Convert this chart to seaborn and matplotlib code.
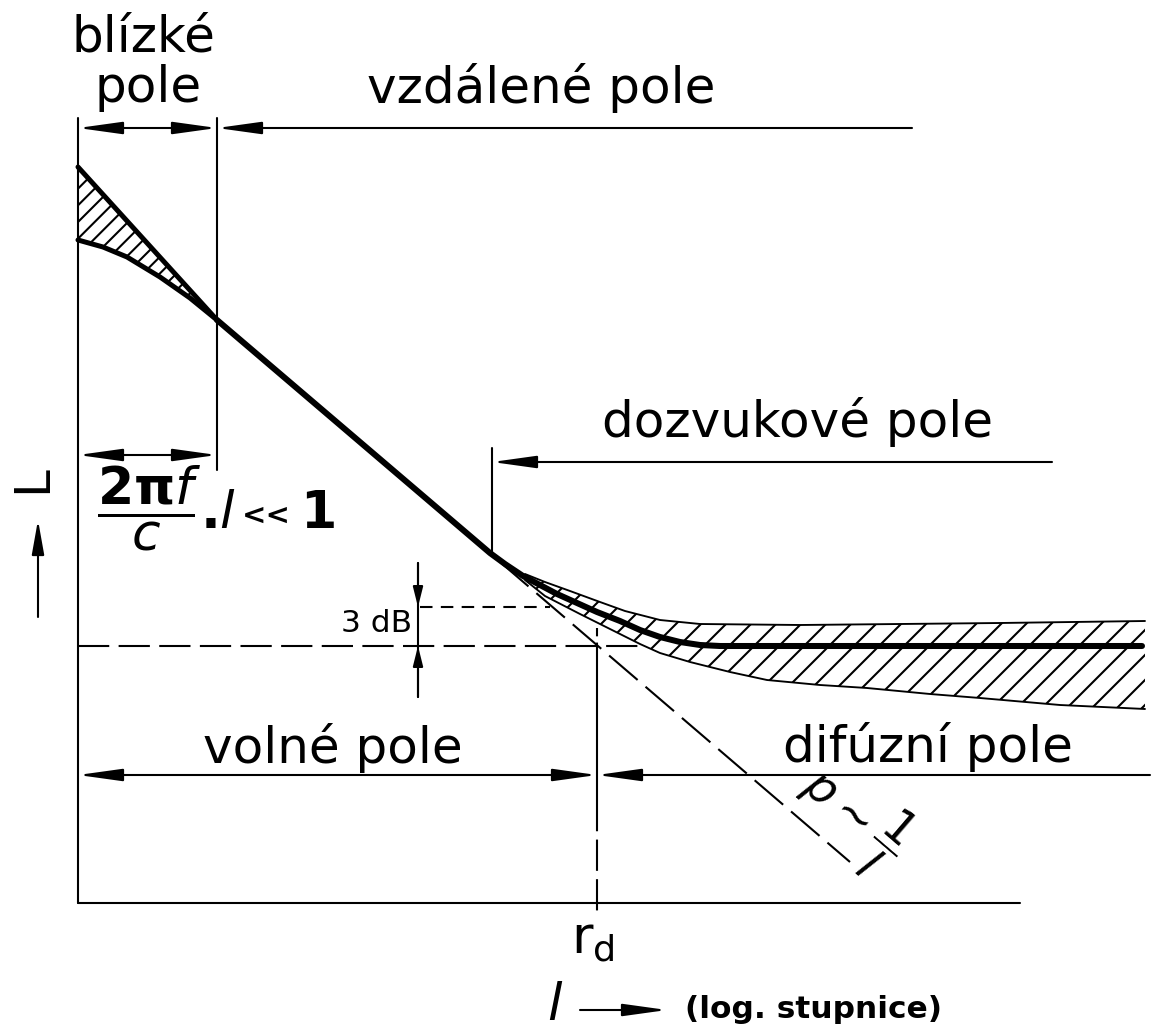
import matplotlib
matplotlib.use("Agg")
import matplotlib.pyplot as plt
import seaborn as sns

# hodnoty (pixely, osa y roste smerem dolu)
# hlavni krivka hladiny L
curve_x = [217, 490, 505, 523, 540, 557, 577, 597, 620, 640, 660, 680, 700, 720, 1142]
curve_y = [320, 553, 564, 576, 585, 594, 603, 612, 621, 630, 637, 642, 645, 646, 646]

# blizke pole - horni a dolni mez
near_up_x = [78, 217]
near_up_y = [167, 320]
near_lo_x = [78, 103, 127, 160, 190, 217]
near_lo_y = [240, 247, 257, 277, 298, 320]

# pasmo dozvukoveho pole (rozptyl)
band_up_x = [525, 545, 570, 600, 625, 660, 700, 800, 900, 1000, 1145]
band_up_y = [574, 582, 591, 602, 611, 620, 624, 625, 624, 623, 621]
band_lo_x = [525, 545, 580, 610, 640, 660, 690, 730, 767, 820, 867, 930, 980, 1060, 1145]
band_lo_y = [580, 596, 614, 629, 644, 653, 662, 672, 680, 685, 688, 694, 698, 705, 709]

# primka p ~ 1/l
asym_x = [500, 850]
asym_y = [562, 862]

# urovne a hranice
ref_level = 646      # hladina difuzniho pole
db3_level = 607      # o 3 dB vyse
r_d = 597
near_edge = 217
reverb_edge = 492
axis_left = 78
axis_bottom = 903

# koty (y, x od, x do)
far_line = (128, axis_left, 912)
formula_line = (455, axis_left, near_edge)
reverb_line = (462, reverb_edge, 1052)
free_line = (775, axis_left, 1150)

sns.set_theme(style="white")
plt.rcParams['font.family'] = ['DejaVu Sans']
plt.rcParams['mathtext.fontset'] = 'dejavusans'
plt.rcParams['hatch.linewidth'] = 1.0
plt.rcParams['text.color'] = 'black'

fig = plt.figure(figsize=(1153 / 150, 1031 / 150), dpi=150)
ax = fig.add_axes([0, 0, 1, 1])
ax.set_xlim(0, 1153)
ax.set_ylim(1031, 0)
ax.axis('off')

K = 'black'
thin = 1.0


def arrow(x0, y0, x1, y1, style, hl=1.8, hw=0.25):
    ax.annotate('', xy=(x1, y1), xytext=(x0, y0),
                arrowprops=dict(arrowstyle=f'{style},head_length={hl},head_width={hw}',
                                color=K, lw=thin, shrinkA=0, shrinkB=0, mutation_scale=10))


# osy
ax.plot([axis_left, axis_left], [118, axis_bottom], color=K, lw=thin)
ax.plot([axis_left, 1020], [axis_bottom, axis_bottom], color=K, lw=thin)
ax.plot([near_edge, near_edge], [118, 470], color=K, lw=thin)
ax.plot([reverb_edge, reverb_edge], [448, 553], color=K, lw=thin)

# kotovaci cary se sipkami
y, a, b = far_line
arrow(a, y, near_edge, y, '<|-|>')
arrow(near_edge, y, b, y, '<|-')
y, a, b = formula_line
arrow(a, y, b, y, '<|-|>')
y, a, b = reverb_line
arrow(a, y, b, y, '<|-')
y, a, b = free_line
arrow(a, y, r_d, y, '<|-|>')
arrow(r_d, y, b, y, '<|-')

# 3 dB kota
ax.plot([418, 418], [563, 697], color=K, lw=thin)
arrow(418, 563, 418, db3_level, '-|>', hl=0.8, hw=0.2)
arrow(418, 697, 418, ref_level, '-|>', hl=0.8, hw=0.2)

# carkovane cary
ax.plot([axis_left, 640], [ref_level, ref_level], color=K, lw=thin, dashes=(15, 4.5))
ax.plot([420, 550], [db3_level, db3_level], color=K, lw=thin, dashes=(6, 4))
ax.plot(asym_x, asym_y, color=K, lw=thin, dashes=(18, 5))
ax.plot([r_d, r_d], [628, ref_level], color=K, lw=thin, dashes=(4, 3))
ax.plot([r_d, r_d], [ref_level, 800], color=K, lw=thin)
ax.plot([r_d, r_d], [800, 915], color=K, lw=thin, dashes=(15, 4))

# srafovane oblasti
ax.fill(near_up_x + near_lo_x[::-1], near_up_y + near_lo_y[::-1],
        facecolor='none', edgecolor=K, hatch='///', linewidth=0)
ax.fill(band_up_x + band_lo_x[::-1], band_up_y + band_lo_y[::-1],
        facecolor='none', edgecolor=K, hatch='//', linewidth=0)
sns.lineplot(x=band_up_x, y=band_up_y, sort=False, color=K, lw=0.9, ax=ax)
sns.lineplot(x=band_lo_x, y=band_lo_y, sort=False, color=K, lw=0.9, ax=ax)

# krivky
sns.lineplot(x=near_up_x, y=near_up_y, sort=False, color=K, lw=2.4, ax=ax)
sns.lineplot(x=near_lo_x, y=near_lo_y, sort=False, color=K, lw=2.4, ax=ax)
sns.lineplot(x=curve_x, y=curve_y, sort=False, color=K, lw=2.9, ax=ax)

# popisky
fs = 24
ax.text(143, 52, 'blízké', fontsize=fs, ha='center', va='baseline')
ax.text(148, 102, 'pole', fontsize=fs, ha='center', va='baseline')
ax.text(541, 103, 'vzdálené pole', fontsize=fs, ha='center', va='baseline')
ax.text(798, 437, 'dozvukové pole', fontsize=fs, ha='center', va='baseline')
ax.text(333, 763, 'volné pole', fontsize=fs, ha='center', va='baseline')
ax.text(928, 762, 'difúzní pole', fontsize=fs, ha='center', va='baseline')

# 2*pi*f/c . l << 1
ax.text(97, 528, r'$\dfrac{\mathbf{2\pi}\mathit{f}}{\mathit{c}}$',
        fontsize=25, ha='left', va='baseline')
ax.text(200, 528, r'.$\mathit{l}$', fontsize=25, fontweight='bold', ha='left', va='baseline')
ax.text(242, 524, '<<', fontsize=14, fontweight='bold', ha='left', va='baseline')
ax.text(300, 528, '1', fontsize=25, fontweight='bold', ha='left', va='baseline')

ax.text(412, 632, '3 dB', fontsize=15, ha='right', va='baseline')

ax.text(32, 479, 'L', fontsize=fs, rotation=90, ha='center', va='center')
arrow(38, 617, 38, 520, '-|>', hl=1.4)

ax.text(853, 818, r'$p \sim \dfrac{1}{l}$', fontsize=22, rotation=-40.6,
        rotation_mode='anchor', ha='center', va='center')

ax.text(593, 953, r'r$_{\mathrm{d}}$', fontsize=25, ha='center', va='baseline')
ax.text(555, 1020, r'$\mathit{l}$', fontsize=25, ha='center', va='baseline')
arrow(580, 1010, 667, 1010, '-|>')
ax.text(685, 1018, '(log. stupnice)', fontsize=15, fontweight='bold', ha='left', va='baseline')

fig.savefig('out.png', dpi=150, facecolor='white')
